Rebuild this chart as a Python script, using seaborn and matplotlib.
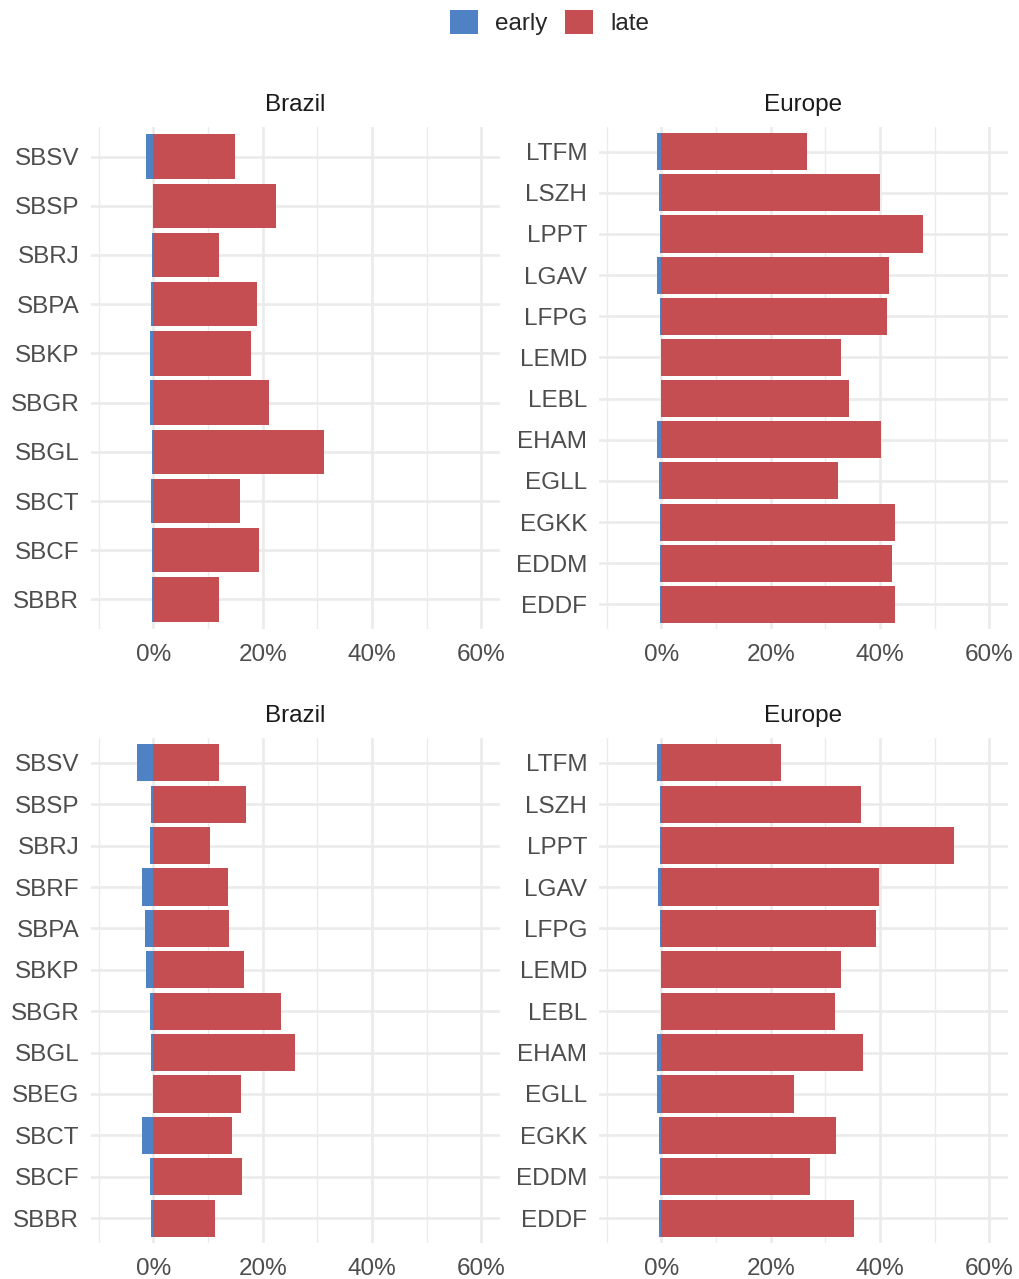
import numpy as np
import pandas as pd
import seaborn as sns
import matplotlib.pyplot as plt
from matplotlib.patches import Patch
from matplotlib.ticker import PercentFormatter, MultipleLocator

# share of flights early (negative) / late (positive), in %
brazil_top = ['SBSV', 'SBSP', 'SBRJ', 'SBPA', 'SBKP', 'SBGR', 'SBGL', 'SBCT', 'SBCF', 'SBBR']
brazil_top_early = [-1.3, 0.0, -0.2, -0.5, -0.7, -0.7, -0.2, -0.5, -0.2, -0.2]
brazil_top_late = [15.0, 22.4, 12.1, 19.0, 17.9, 21.2, 31.2, 15.8, 19.4, 12.1]

europe = ['LTFM', 'LSZH', 'LPPT', 'LGAV', 'LFPG', 'LEMD', 'LEBL', 'EHAM', 'EGLL', 'EGKK', 'EDDM', 'EDDF']
europe_top_early = [-0.8, -0.4, -0.25, -0.8, -0.25, -0.05, -0.05, -0.8, -0.4, -0.25, -0.25, -0.25]
europe_top_late = [26.6, 40.0, 47.9, 41.7, 41.3, 32.8, 34.4, 40.2, 32.4, 42.8, 42.1, 42.8]

brazil_bot = ['SBSV', 'SBSP', 'SBRJ', 'SBRF', 'SBPA', 'SBKP', 'SBGR', 'SBGL', 'SBEG', 'SBCT', 'SBCF', 'SBBR']
brazil_bot_early = [-2.9, -0.4, -0.7, -2.0, -1.6, -1.3, -0.7, -0.4, 0.0, -2.0, -0.7, -0.5]
brazil_bot_late = [12.1, 17.0, 10.3, 13.6, 13.8, 16.5, 23.4, 25.9, 16.0, 14.3, 16.3, 11.2]

europe_bot_early = [-0.8, -0.3, -0.3, -0.6, -0.3, -0.1, -0.1, -0.8, -0.8, -0.5, -0.3, -0.5]
europe_bot_late = [21.9, 36.5, 53.5, 39.8, 39.3, 32.9, 31.8, 36.9, 24.3, 32.0, 27.1, 35.3]

colors = {'early': '#4F81C5', 'late': '#C44E52'}

sns.set_style('white')
plt.rcParams['font.family'] = ['Liberation Sans', 'DejaVu Sans']

FS = 17.5
W, H = 1019, 1279
fig = plt.figure(figsize=(W / 100, H / 100), dpi=100)


def make_df(airports, early, late):
    return pd.DataFrame({
        'airport': airports * 2,
        'value': list(early) + list(late),
        'type': ['early'] * len(airports) + ['late'] * len(airports),
    })


def panel(left_px, top_px, bottom_px, airports, early, late, title):
    ax = fig.add_axes([left_px / W, 1 - bottom_px / H, 409 / W, (bottom_px - top_px) / H])
    df = make_df(airports, early, late)
    sns.barplot(data=df, x='value', y='airport', hue='type', order=airports,
                hue_order=['early', 'late'], palette=colors, dodge=False, saturation=1,
                width=0.9, orient='h', legend=False, ax=ax, linewidth=0)
    n = len(airports)
    ax.set_ylim(n - 1 + 0.6, -0.6)
    ax.set_xlim(-11.4, 63.4)
    ax.xaxis.set_major_locator(MultipleLocator(20))
    ax.xaxis.set_minor_locator(MultipleLocator(10))
    ax.xaxis.set_major_formatter(PercentFormatter(100, decimals=0))
    ax.grid(which='major', color='#EBEBEB', linewidth=1.9, zorder=0)
    ax.grid(which='minor', axis='x', color='#EBEBEB', linewidth=0.95, zorder=0)
    ax.set_axisbelow(True)
    for s in ax.spines.values():
        s.set_visible(False)
    ax.tick_params(axis='both', which='both', length=0, labelsize=FS, labelcolor='#4D4D4D')
    ax.tick_params(axis='y', pad=8.5)
    ax.tick_params(axis='x', pad=11)
    ax.set_xlabel('')
    ax.set_ylabel('')
    ax.text(0.5, 1 + 22 / (bottom_px - top_px), title, transform=ax.transAxes,
            ha='center', va='center', fontsize=FS, color='#1A1A1A')
    return ax


panel(91, 127, 629, brazil_top, brazil_top_early, brazil_top_late, 'Brazil')
panel(599, 127, 629, europe, europe_top_early, europe_top_late, 'Europe')
panel(91, 738, 1243, brazil_bot, brazil_bot_early, brazil_bot_late, 'Brazil')
panel(599, 738, 1243, europe, europe_bot_early, europe_bot_late, 'Europe')

handles = [Patch(facecolor=colors[k], edgecolor='none', label=k) for k in ['early', 'late']]
fig.legend(handles=handles, loc='center', bbox_to_anchor=(549.5 / W, 1 - 22.5 / H),
           ncol=2, frameon=False, fontsize=FS, handlelength=1.15, handleheight=1.15,
           handletextpad=0.7, columnspacing=0.75)

fig.savefig('out.png', dpi=100)
